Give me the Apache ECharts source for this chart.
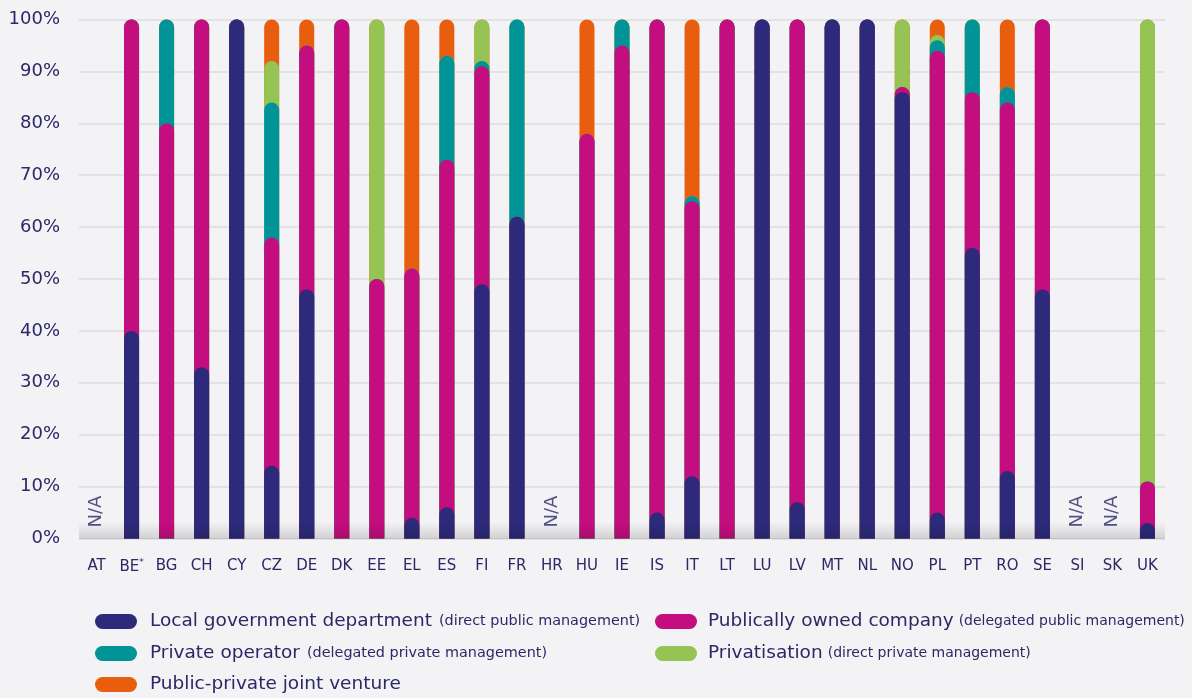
<!DOCTYPE html>
<html>
<head>
<meta charset="utf-8">
<script src="https://cdn.jsdelivr.net/npm/echarts@6/dist/echarts.min.js"></script>
<style>
  html, body { margin: 0; padding: 0; background: #f3f3f6; }
  #chart { width: 1192px; height: 698px; }
</style>
</head>
<body>
<div id="chart"></div>
<script>
// countries (null = N/A)
var countries = ['AT', 'BE*', 'BG', 'CH', 'CY', 'CZ', 'DE', 'DK', 'EE', 'EL', 'ES', 'FI', 'FR', 'HR', 'HU', 'IE',
    'IS', 'IT', 'LT', 'LU', 'LV', 'MT', 'NL', 'NO', 'PL', 'PT', 'RO', 'SE', 'SI', 'SK', 'UK'];

// shares in %, bottom to top
var localGov = [null, 40, 0, 33, 100, 14, 48, 0, 0, 4, 6, 49, 62, null, 0, 0,
    5, 12, 0, 100, 7, 100, 100, 86, 5, 56, 13, 48, null, null, 3];
var publicCompany = [null, 60, 80, 67, 0, 44, 47, 100, 50, 48, 67, 42, 0, null, 78, 95,
    95, 53, 100, 0, 93, 0, 0, 1, 89, 30, 71, 52, null, null, 8];
var privateOperator = [null, 0, 20, 0, 0, 26, 0, 0, 0, 0, 20, 1, 38, null, 0, 5,
    0, 1, 0, 0, 0, 0, 0, 0, 2, 14, 3, 0, null, null, 0];
var privatisation = [null, 0, 0, 0, 0, 8, 0, 0, 50, 0, 0, 8, 0, null, 0, 0,
    0, 0, 0, 0, 0, 0, 0, 13, 1, 0, 0, 0, null, null, 89];
var jointVenture = [null, 0, 0, 0, 0, 8, 5, 0, 0, 48, 7, 0, 0, null, 22, 0,
    0, 34, 0, 0, 0, 0, 0, 0, 3, 0, 13, 0, null, null, 0];

var yTicks = [0, 10, 20, 30, 40, 50, 60, 70, 80, 90, 100];

var groups = [
    {name: 'Local government department', note: '(direct public management)', data: localGov, color: '#2d2a7b'},
    {name: 'Publically owned company', note: '(delegated public management)', data: publicCompany, color: '#c40d7e'},
    {name: 'Private operator', note: '(delegated private management)', data: privateOperator, color: '#009398'},
    {name: 'Privatisation', note: '(direct private management)', data: privatisation, color: '#95c454'},
    {name: 'Public-private joint venture', note: '', data: jointVenture, color: '#e95d0f'}
];

var textColor = '#2b2866';
var font = 'DejaVu Sans';
var capsule = 'path://M7.5,0H34.5A7.5,7.5,0,0,1,34.5,15H7.5A7.5,7.5,0,0,1,7.5,0Z';

// each segment drawn as a capsule from 0 up to its running total, lower ones on top
var running = countries.map(function () { return 0; });
var barSeries = groups.map(function (g, gi) {
    var cum = g.data.map(function (v, i) {
        if (v === null) return null;
        running[i] += v;
        return running[i];
    });
    return {
        name: g.name,
        type: 'bar',
        barWidth: 15,
        barGap: '-100%',
        z: 10 - gi,
        itemStyle: {color: g.color, borderRadius: [7.5, 7.5, 0, 0]},
        data: cum.map(function (c, i) { return (c === null || (g.data[i] === 0 && gi === 0)) ? null : c; })
    };
});

var naData = [];
localGov.forEach(function (v, i) { if (v === null) naData.push([i, 5.2]); });

var chart = echarts.init(document.getElementById('chart'));
var legends = [];
var legendPos = [[95, 612], [655, 612], [95, 644], [655, 644], [95, 675]];
groups.forEach(function (g, gi) {
    legends.push({
        data: [g.name],
        left: legendPos[gi][0],
        top: legendPos[gi][1],
        padding: 0,
        icon: capsule,
        itemWidth: 42,
        itemHeight: 15,
        selectedMode: false,
        formatter: function (name) {
            return '{a|' + name + '}' + (g.note ? '{b|' + g.note + '}' : '');
        },
        textStyle: {
            fontFamily: font,
            color: textColor,
            padding: [0, 0, 0, gi % 2 ? 6 : 8],
            rich: {
                a: {fontSize: 18.5, fontFamily: font, color: textColor, padding: [0, gi % 2 ? 5 : 7, 0, 0]},
                b: {fontSize: gi % 2 ? 14 : 14.4, fontFamily: font, color: textColor}
            }
        }
    });
});

var option = {
    backgroundColor: '#f3f3f6',
    animation: false,
    grid: {left: 79, right: 27, top: 19.5, bottom: 159.5},
    legend: legends,
    xAxis: {
        type: 'category',
        data: countries,
        axisLine: {show: false},
        axisTick: {show: false},
        axisLabel: {
            interval: 0,
            margin: 20,
            fontSize: 15,
            fontFamily: font,
            color: textColor,
            formatter: function (v) { return v === 'BE*' ? 'BE{s|*}' : v; },
            rich: {s: {fontSize: 9, fontFamily: font, color: textColor, padding: [0, 0, 8, 0]}}
        }
    },
    yAxis: {
        type: 'value',
        min: yTicks[0],
        max: yTicks[yTicks.length - 1],
        interval: 10,
        axisLine: {show: false},
        axisTick: {show: false},
        splitLine: {lineStyle: {color: '#dcdce0', width: 1.5}},
        axisLabel: {
            formatter: '{value}%',
            margin: 19,
            fontSize: 18,
            fontFamily: font,
            color: textColor
        }
    },
    graphic: [{
        type: 'rect',
        z: 100,
        silent: true,
        shape: {x: 79, y: 522, width: 1086, height: 17},
        style: {
            fill: new echarts.graphic.LinearGradient(0, 0, 0, 1, [
                {offset: 0, color: 'rgba(0,0,0,0)'},
                {offset: 1, color: 'rgba(0,0,0,0.14)'}
            ])
        }
    }],
    series: barSeries.slice().reverse().concat([{
        type: 'scatter',
        symbolSize: 1,
        itemStyle: {color: 'rgba(0,0,0,0)'},
        label: {
            show: true,
            position: 'inside',
            rotate: 90,
            formatter: 'N/A',
            fontSize: 18,
            fontFamily: font,
            color: textColor
        },
        data: naData
    }])
};
chart.setOption(option);
</script>
</body>
</html>
